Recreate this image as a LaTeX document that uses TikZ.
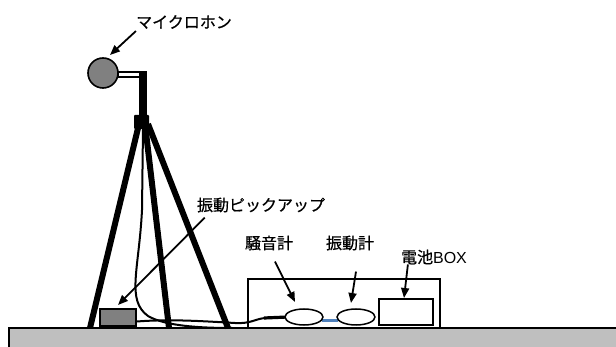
\documentclass[tikz,border=0pt]{standalone}
\usepackage{fontspec}
\setmainfont{Noto Sans CJK JP}[FakeBold=0.6]
\newfontfamily\latinfont{Liberation Sans}
\usetikzlibrary{arrows.meta,shapes.geometric}
\definecolor{linkblue}{RGB}{79,129,189}

\begin{document}
\begin{tikzpicture}[x=1pt,y=-1pt,
  tag/.style={font=\fontsize{16}{18}\selectfont, inner sep=0pt},
  pointer/.style={-{Triangle[length=10pt,width=8pt]}, line width=1.8pt},
  leg/.style={line width=6pt},
  cable/.style={line width=2pt},
  unit/.style={draw, line width=1.6pt, inner sep=0pt, fill=white}]
  \useasboundingbox (0,0) rectangle (616,347);
  % floor
  \fill[gray!50] (9,328) rectangle (616,347);
  \draw[line width=1.6pt] (9,347) -- (9,328) -- (616,328);
  % tripod and microphone
  \draw[leg] (139,124) -- (90,328);
  \draw[leg] (145,124) -- (169,328);
  \draw[leg] (148,124) -- (228,328);
  \node[circle, draw, fill=gray, line width=1.6pt, minimum size=30pt, inner sep=0pt] (mic) at (103,73) {};
  \draw[fill=white, line width=1.4pt] (mic.east) ++(-1,-1) rectangle (146,77);
  \fill (139,71) rectangle (147,118);
  \fill[rounded corners=1pt] (134,115) rectangle (149,129);
  % meters
  \node[unit, fill=none, minimum width=192pt, minimum height=49pt] (meterbox) at (344,303.5) {};
  \node[unit, minimum width=54pt, minimum height=26pt] (battery) at (406,312) {};
  \node[unit, draw, fill=gray, minimum width=36pt, minimum height=17pt] (pickup) at (118,317.5) {};
  % cables
  \draw[cable] (143,128) -- (142,210) .. controls (139,270) and (126,300) .. (148,316)
    .. controls (165,326) and (200,328) .. (232,328);
  \draw[cable] ([yshift=-4pt]pickup.east) .. controls (170,319) and (200,321) .. (235,323)
    .. controls (250,324) and (255,319) .. (265,318);
  \draw[line width=3.2pt] (264,318) -- (288,317);
  \draw[line width=2.2pt, linkblue] (322,320.5) -- (338,320.5);
  \node[unit, ellipse, line width=1.5pt, minimum width=38pt, minimum height=16pt] (noise) at (304,317) {};
  \node[unit, ellipse, line width=1.5pt, minimum width=38pt, minimum height=16pt] (vib) at (356,317) {};
  % labels
  \node[tag] (micLabel) at (184,22) {マイクロホン};
  \node[tag] (pickLabel) at (261,205) {振動ピックアップ};
  \node[tag] (noiseLabel) at (269,243) {騒音計};
  \node[tag] (vibLabel) at (350,243) {振動計};
  \node[tag] (batLabel) at (434,257) {電池{\latinfont BOX}};
  \coordinate (micTip) at (110,55);
  \coordinate (pickTip) at (118,305);
  \coordinate (noiseTip) at (295,302);
  \coordinate (vibTip) at (351,303);
  \coordinate (batTip) at (404,298);
  \draw[pointer] ([yshift=-2pt]micLabel.south west) -- (micTip);
  \draw[pointer] ([xshift=8pt,yshift=-5pt]pickLabel.south west) -- (pickTip);
  \draw[pointer] ([xshift=6pt,yshift=-11pt]noiseLabel.south) -- (noiseTip);
  \draw[pointer] ([xshift=6pt,yshift=-21pt]vibLabel.south) -- (vibTip);
  \draw[pointer] ([xshift=7pt]batLabel.south west) -- (batTip);
\end{tikzpicture}
\end{document}
